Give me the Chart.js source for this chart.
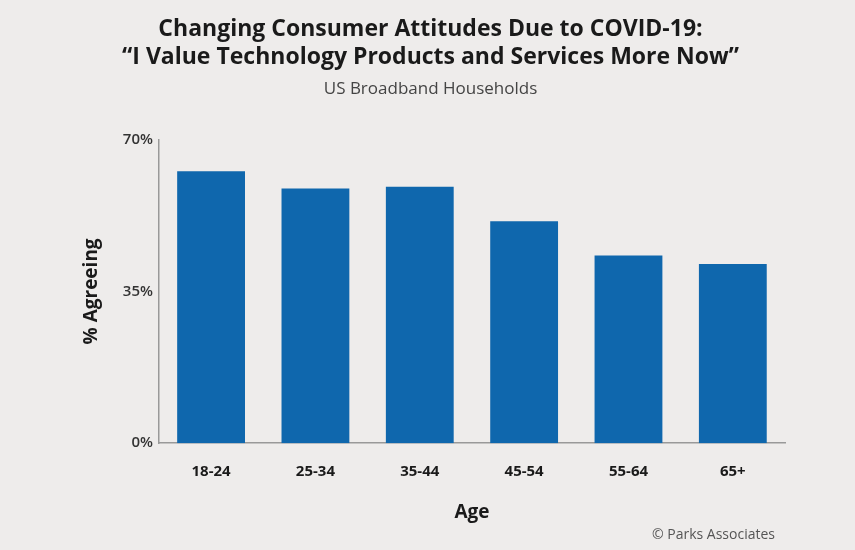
<!DOCTYPE html>
<html>
<head>
<meta charset="utf-8">
<script src="https://cdn.jsdelivr.net/npm/chart.js@4/dist/chart.umd.min.js"></script>
<style>
  body { margin: 0; background: #eeeceb; }
  #wrap { width: 855px; height: 550px; position: relative; }
  #credit { position: absolute; right: 80px; top: 524px; font: 14px "Open Sans", sans-serif; color: #555; }
</style>
</head>
<body>
<div id="wrap">
  <canvas id="chart" width="855" height="550"></canvas>
  <div id="credit">© Parks Associates</div>
</div>
<script>
const ageGroups = ["18-24", "25-34", "35-44", "45-54", "55-64", "65+"];
const agreeing = [62.7, 58.7, 59.1, 51.2, 43.3, 41.3];
const yTicks = [0, 35, 70];

new Chart(document.getElementById("chart"), {
  type: "bar",
  data: {
    labels: ageGroups,
    datasets: [
      {
        data: agreeing,
        backgroundColor: "#0f67ad",
        categoryPercentage: 1,
        barPercentage: 0.65,
      },
    ],
  },
  options: {
    responsive: false,
    animation: false,
    layout: { padding: { left: 76, right: 70, top: 0, bottom: 22 } },
    plugins: {
      legend: { display: false },
      tooltip: { enabled: false },
      title: {
        display: true,
        text: [
          "Changing Consumer Attitudes Due to COVID-19:",
          "\u201cI Value Technology Products and Services More Now\u201d",
        ],
        font: { family: "Open Sans", size: 23, weight: "bold" },
        color: "#1a1a1a",
        lineHeight: 1.3,
        padding: { top: 16, bottom: 0 },
      },
      subtitle: {
        display: true,
        text: "US Broadband Households",
        font: { family: "Open Sans", size: 17 },
        color: "#444",
        padding: { top: 8, bottom: 40 },
      },
    },
    scales: {
      x: {
        grid: { display: false, drawTicks: false },
        border: { color: "#999", width: 1.5 },
        ticks: {
          color: "#1a1a1a",
          font: { family: "Open Sans", size: 15, weight: "bold" },
          padding: 20,
        },
        title: {
          display: true,
          text: "Age",
          color: "#1a1a1a",
          font: { family: "Open Sans", size: 19, weight: "bold" },
          padding: { top: 0 },
        },
      },
      y: {
        min: 0,
        max: 70,
        afterBuildTicks: (axis) => {
          axis.ticks = yTicks.map((v) => ({ value: v }));
        },
        grid: { display: false, drawTicks: false },
        border: { color: "#999", width: 1.5 },
        ticks: {
          color: "#333",
          font: { family: "Open Sans", size: 15, weight: "600" },
          padding: 6,
          callback: (v) => v + "%",
        },
        title: {
          display: true,
          text: "% Agreeing",
          color: "#1a1a1a",
          font: { family: "Open Sans", size: 19, weight: "bold" },
          padding: { bottom: 14 },
        },
      },
    },
  },
});
</script>
</body>
</html>
